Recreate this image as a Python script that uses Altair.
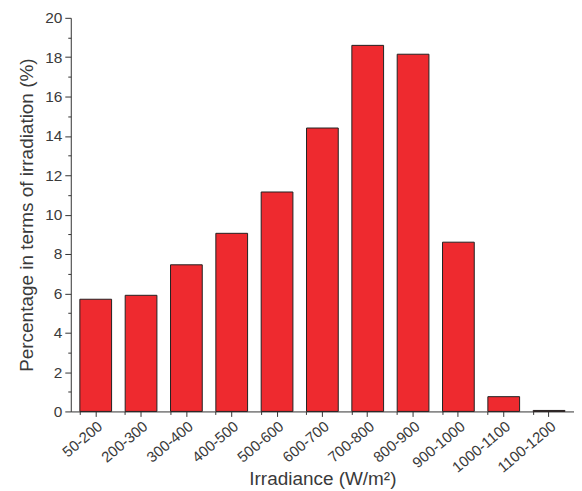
import altair as alt
import pandas as pd

categories = ["50-200", "200-300", "300-400", "400-500", "500-600", "600-700",
              "700-800", "800-900", "900-1000", "1000-1100", "1100-1200"]
values = [5.7, 5.9, 7.45, 9.05, 11.15, 14.4, 18.6, 18.15, 8.6, 0.75, 0.05]

df = pd.DataFrame({"cat": categories, "pct": values})

FONT = "Liberation Sans"

xscale = alt.Scale(paddingInner=0.3, paddingOuter=0.2)
yscale = alt.Scale(domain=[0, 20], nice=False)

bars = alt.Chart(df).mark_bar(color="#EE2A2F", stroke="#222222", strokeWidth=1).encode(
    x=alt.X("cat:N", sort=categories, scale=xscale,
            axis=alt.Axis(title="Irradiance (W/m²)", labelAngle=-40, labelAlign="right",
                          labelBaseline="top", tickSize=5, labelPadding=2, labelOffset=0,
                          titleFont=FONT, titleFontSize=19, titleFontWeight="normal",
                          titleColor="#3a3a3a", labelFont=FONT, labelFontSize=15,
                          labelColor="#3a3a3a", domainColor="#333333", tickColor="#333333",
                          titleY=67, titleBaseline="middle")),
    y=alt.Y("pct:Q", scale=yscale,
            axis=alt.Axis(title="Percentage in terms of irradiation (%)",
                          values=list(range(0, 21)),
                          labelExpr="datum.value % 2 == 0 ? datum.label : ''",
                          tickSize={"condition": {"test": "datum.value % 2 == 0", "value": 6}, "value": 3},
                          grid=False, titleFont=FONT, titleFontSize=19, titleFontWeight="normal",
                          titleColor="#3a3a3a", labelFont=FONT, labelFontSize=15.5,
                          labelColor="#3a3a3a", domainColor="#333333", tickColor="#333333",
                          labelPadding=3, titlePadding=8)),
)

minor = alt.Chart(df).mark_bar(opacity=0).encode(
    x=alt.X("cat:N", sort=categories, scale=xscale,
            axis=alt.Axis(orient="bottom", labels=False, title=None, bandPosition=0,
                          tickSize=3, domain=False, tickColor="#333333")),
    y=alt.Y("pct:Q", scale=yscale, axis=None),
)

chart = alt.layer(bars, minor).resolve_axis(x="independent", y="independent").properties(
    width=505, height=395, padding={"left": 9, "top": 2, "right": 0, "bottom": 0}
).configure_view(stroke=None).configure_axis(grid=False)

chart.save("out.html", embed_options={"renderer": "svg", "actions": False})
